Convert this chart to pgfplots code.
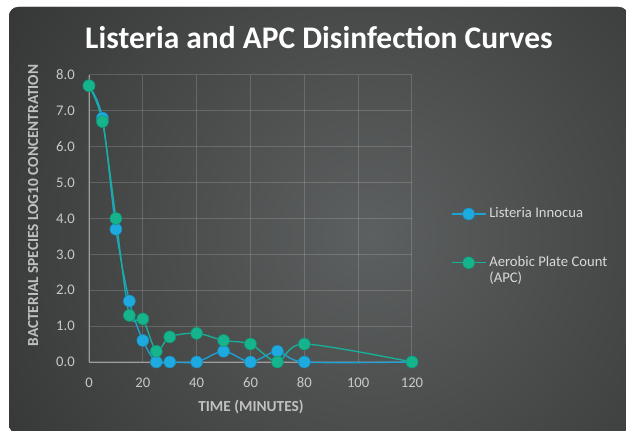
\documentclass[border=0pt]{standalone}
\usepackage{fontspec}
\setmainfont{Carlito}
\usepackage{pgfplots}
\usepackage{pgfplotstable}
\pgfplotsset{compat=1.18}

\definecolor{bgdark}{RGB}{38,38,38}
\definecolor{bglight}{RGB}{93,96,96}
\definecolor{lisblue}{RGB}{30,170,222}
\definecolor{lisline}{RGB}{28,162,212}
\definecolor{apcgreen}{RGB}{22,180,140}
\definecolor{apcline}{RGB}{24,176,152}
\definecolor{ticktext}{RGB}{200,200,200}
\definecolor{labeltext}{RGB}{192,192,192}

% time (min), log10 concentration
\pgfplotstableread{
t    lis  apc
0    7.7  7.7
5    6.8  6.7
10   3.7  4.0
15   1.7  1.3
20   0.6  1.2
25   0.0  0.3
30   0.0  0.7
40   0.0  0.8
50   0.3  0.6
60   0.0  0.5
70   0.3  0.0
80   0.0  0.5
120  0.0  0.0
}\curves

\begin{document}
\begin{tikzpicture}
% page is 626x431 px, 1px = 0.75pt
\fill[white] (0,0) rectangle (469.5pt,323.25pt);
\useasboundingbox (0,0) rectangle (469.5pt,323.25pt);
\fill[bgdark, rounded corners=7pt] (6.75pt,-2pt) rectangle (471pt,318pt);
\begin{scope}
  \clip[rounded corners=7pt] (6.75pt,-2pt) rectangle (471pt,318pt);
  \shade[inner color=bglight, outer color=bgdark] (277pt,147pt) circle (450pt);
\end{scope}

\begin{axis}[
    at={(66.75pt,51.75pt)}, anchor=south west,
    scale only axis,
    width=242.25pt, height=215.25pt,
    xmin=0, xmax=120, ymin=0, ymax=8,
    xtick={0,20,...,120},
    ytick={0,1,...,8},
    axis lines*=left,
    axis line style={draw=white!62!black, line width=0.6pt},
    major tick length=0pt,
    grid=major,
    major grid style={draw=white, draw opacity=0.16, line width=0.75pt},
    clip=false,
    /pgf/number format/assume math mode=true,
    yticklabel={\pgfmathprintnumber[fixed,fixed zerofill,precision=1]{\tick}},
    xticklabel={\pgfmathprintnumber[fixed]{\tick}},
    tick label style={font=\fontsize{11}{13}\selectfont, text=ticktext, inner sep=0pt},
    yticklabel style={anchor=east, xshift=-10.5pt},
    xticklabel style={anchor=north, yshift=-11.5pt},
    title={Listeria and APC Disinfection Curves},
    every axis title/.style={at={(axis description cs:0.712,1.094)}, anchor=base,
        font=\fontsize{23.6}{27}\selectfont\bfseries, text=white},
    xlabel={TIME (MINUTES)},
    ylabel={BACTERIAL SPECIES LOG10 CONCENTRATION},
    every axis x label/.style={at={(axis description cs:0.5015,-0.156)}, anchor=center},
    every axis y label/.style={at={(axis description cs:-0.173,0.545)}, anchor=center, rotate=90},
    label style={font=\fontsize{11.5}{13}\selectfont\bfseries, text=labeltext},
    legend cell align=left,
    legend image code/.code={\draw[mark repeat=2,mark phase=2] plot coordinates {(0pt,0pt)(12.75pt,0pt)(25.5pt,0pt)};},
    legend style={at={(1.1207,0.540)}, anchor=north west, draw=none, fill=none,
        inner sep=0pt, outer sep=0pt, row sep=1.7pt, column sep=2.25pt,
        font=\fontsize{11}{13}\selectfont, text=white!85!black,
        nodes={inner sep=0pt, text height=8pt, text depth=2.5pt}},
    every axis plot/.append style={line width=1pt, smooth, tension=0.5},
]
\addplot[color=lisline, mark=*, mark size=4.5pt,
    mark options={fill=lisblue, draw=lisblue!80!black, line width=0.4pt}]
    table[x=t, y=lis] {\curves};
\addlegendentry{Listeria Innocua}
\addlegendimage{empty legend}
\addlegendentry{}
\addlegendimage{empty legend}
\addlegendentry{}
\addplot[color=apcline, mark=*, mark size=4.5pt,
    mark options={fill=apcgreen, draw=apcgreen!80!black, line width=0.4pt}]
    table[x=t, y=apc] {\curves};
\addlegendentry{Aerobic Plate Count}
\addlegendimage{empty legend}
\addlegendentry{(APC)}
\end{axis}
\end{tikzpicture}
\end{document}
